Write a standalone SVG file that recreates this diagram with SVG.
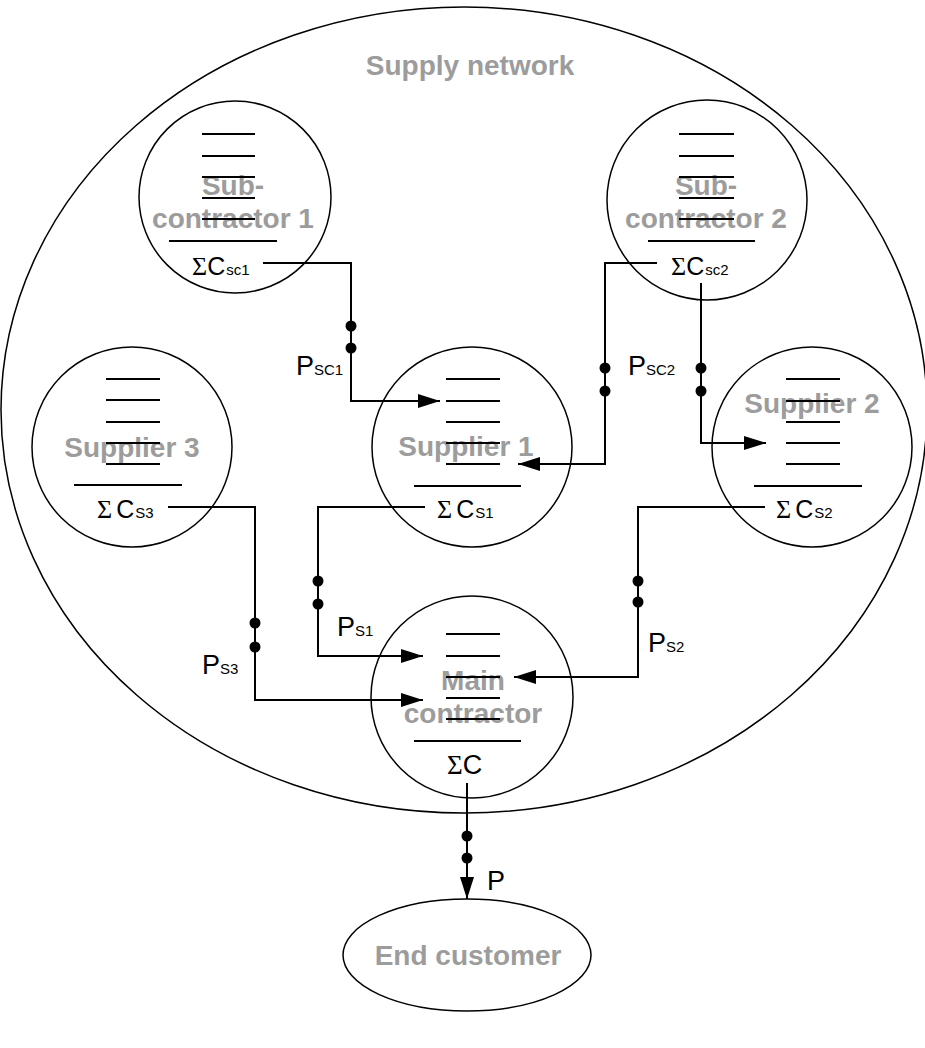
<svg xmlns="http://www.w3.org/2000/svg" width="925" height="1048" viewBox="0 0 925 1048">
  <style>
    .outline { fill: none; stroke: #000; stroke-width: 1.5; }
    .bar { stroke: #000; stroke-width: 2; }
    .wire { fill: none; stroke: #000; stroke-width: 2; }
    .label { font-family: "Liberation Sans", Arial, sans-serif; font-weight: bold; font-size: 28px; fill: #9c9c9c; text-anchor: middle; }
    .sym { font-family: "Liberation Serif", "Times New Roman", serif; font-size: 26px; fill: #000; }
    .cost { font-family: "Liberation Sans", Arial, sans-serif; font-size: 25px; fill: #000; }
    .sub { font-family: "Liberation Sans", Arial, sans-serif; font-size: 15px; fill: #000; }
    .price { font-family: "Liberation Sans", Arial, sans-serif; font-size: 27px; fill: #000; }
  </style>
  <defs>
    <marker id="arrow" markerUnits="userSpaceOnUse" markerWidth="22" markerHeight="14" refX="22" refY="7" orient="auto">
      <polygon points="0,0 22,7 0,14" fill="#000"/>
    </marker>
  </defs>

  <rect width="925" height="1048" fill="#fff"/>

  <!-- Supply network boundary -->
  <g id="supply-network">
    <ellipse class="outline" cx="464" cy="410" rx="463" ry="403"/>
    <text class="label" x="470" y="75">Supply network</text>
  </g>

  <!-- Sub-contractor 1 -->
  <g id="subcontractor-1">
    <circle class="outline" cx="235" cy="197" r="96"/>
    <text class="label" x="233" y="195">Sub-</text>
    <text class="label" x="233" y="228">contractor 1</text>
    <line class="bar" x1="202" y1="134" x2="255" y2="134"/>
    <line class="bar" x1="202" y1="156" x2="255" y2="156"/>
    <line class="bar" x1="202" y1="177" x2="255" y2="177"/>
    <line class="bar" x1="202" y1="198" x2="255" y2="198"/>
    <line class="bar" x1="202" y1="219" x2="255" y2="219"/>
    <line class="bar" x1="169" y1="241" x2="277" y2="241"/>
    <text x="192" y="275"><tspan class="sym">Σ</tspan><tspan class="cost">C</tspan><tspan class="sub" dx="1">sc1</tspan></text>
  </g>

  <!-- Sub-contractor 2 -->
  <g id="subcontractor-2">
    <circle class="outline" cx="707" cy="200" r="100"/>
    <text class="label" x="706" y="195">Sub-</text>
    <text class="label" x="706" y="228">contractor 2</text>
    <line class="bar" x1="679" y1="134" x2="734" y2="134"/>
    <line class="bar" x1="679" y1="156" x2="734" y2="156"/>
    <line class="bar" x1="679" y1="177" x2="734" y2="177"/>
    <line class="bar" x1="679" y1="198" x2="734" y2="198"/>
    <line class="bar" x1="679" y1="219" x2="734" y2="219"/>
    <line class="bar" x1="648" y1="241" x2="755" y2="241"/>
    <text x="671" y="275"><tspan class="sym">Σ</tspan><tspan class="cost">C</tspan><tspan class="sub" dx="1">sc2</tspan></text>
  </g>

  <!-- Supplier 3 -->
  <g id="supplier-3">
    <circle class="outline" cx="132" cy="447" r="100"/>
    <text class="label" x="132" y="457">Supplier 3</text>
    <line class="bar" x1="106" y1="379" x2="160" y2="379"/>
    <line class="bar" x1="106" y1="400" x2="160" y2="400"/>
    <line class="bar" x1="106" y1="422" x2="160" y2="422"/>
    <line class="bar" x1="106" y1="443" x2="160" y2="443"/>
    <line class="bar" x1="106" y1="464" x2="160" y2="464"/>
    <line class="bar" x1="74" y1="485" x2="182" y2="485"/>
    <text x="97" y="518"><tspan class="sym">Σ</tspan><tspan class="cost" dx="4">C</tspan><tspan class="sub" dx="1">S3</tspan></text>
  </g>

  <!-- Supplier 1 -->
  <g id="supplier-1">
    <circle class="outline" cx="472" cy="447" r="100"/>
    <text class="label" x="466" y="456">Supplier 1</text>
    <line class="bar" x1="446" y1="379" x2="500" y2="379"/>
    <line class="bar" x1="446" y1="401" x2="500" y2="401"/>
    <line class="bar" x1="446" y1="422" x2="500" y2="422"/>
    <line class="bar" x1="446" y1="443" x2="500" y2="443"/>
    <line class="bar" x1="446" y1="464" x2="500" y2="464"/>
    <line class="bar" x1="414" y1="486" x2="521" y2="486"/>
    <text x="437" y="518"><tspan class="sym">Σ</tspan><tspan class="cost" dx="4">C</tspan><tspan class="sub" dx="1">S1</tspan></text>
  </g>

  <!-- Supplier 2 -->
  <g id="supplier-2">
    <circle class="outline" cx="812" cy="447" r="100"/>
    <text class="label" x="812" y="413">Supplier 2</text>
    <line class="bar" x1="786" y1="379" x2="840" y2="379"/>
    <line class="bar" x1="786" y1="401" x2="840" y2="401"/>
    <line class="bar" x1="786" y1="422" x2="840" y2="422"/>
    <line class="bar" x1="786" y1="443" x2="840" y2="443"/>
    <line class="bar" x1="786" y1="464" x2="840" y2="464"/>
    <line class="bar" x1="754" y1="486" x2="862" y2="486"/>
    <text x="776" y="518"><tspan class="sym">Σ</tspan><tspan class="cost" dx="4">C</tspan><tspan class="sub" dx="1">S2</tspan></text>
  </g>

  <!-- Main contractor -->
  <g id="main-contractor">
    <circle class="outline" cx="472" cy="697" r="101"/>
    <text class="label" x="473" y="690">Main</text>
    <text class="label" x="473" y="723">contractor</text>
    <line class="bar" x1="446" y1="634" x2="500" y2="634"/>
    <line class="bar" x1="446" y1="656" x2="500" y2="656"/>
    <line class="bar" x1="446" y1="677" x2="500" y2="677"/>
    <line class="bar" x1="446" y1="698" x2="500" y2="698"/>
    <line class="bar" x1="446" y1="719" x2="500" y2="719"/>
    <line class="bar" x1="414" y1="741" x2="521" y2="741"/>
    <text x="447" y="774"><tspan class="sym" style="font-size:27px">Σ</tspan><tspan class="cost" style="font-size:27px">C</tspan></text>
  </g>

  <!-- End customer -->
  <g id="end-customer">
    <ellipse class="outline" cx="467" cy="955" rx="124" ry="56"/>
    <text class="label" x="468" y="965">End customer</text>
  </g>

  <!-- Price / cost flows -->
  <g id="connectors">
    <polyline class="wire" points="263,263 351,263 351,401 440,401" marker-end="url(#arrow)"/>
    <polyline class="wire" points="657,263 605,263 605,464 518,464" marker-end="url(#arrow)"/>
    <polyline class="wire" points="701,283 701,443 766,443" marker-end="url(#arrow)"/>
    <polyline class="wire" points="168,507 255,507 255,700 423,700" marker-end="url(#arrow)"/>
    <polyline class="wire" points="425,507 318,507 318,656 423,656" marker-end="url(#arrow)"/>
    <polyline class="wire" points="765,507 638,507 638,677 514,677" marker-end="url(#arrow)"/>
    <polyline class="wire" points="467,783 467,899" marker-end="url(#arrow)"/>

    <g id="junctions" fill="#000">
      <circle cx="351" cy="326" r="5.5"/><circle cx="351" cy="348" r="5.5"/>
      <circle cx="605" cy="368" r="5.5"/><circle cx="605" cy="391" r="5.5"/>
      <circle cx="701" cy="368" r="5.5"/><circle cx="701" cy="391" r="5.5"/>
      <circle cx="255" cy="623" r="5.5"/><circle cx="255" cy="647" r="5.5"/>
      <circle cx="318" cy="581" r="5.5"/><circle cx="318" cy="604" r="5.5"/>
      <circle cx="638" cy="581" r="5.5"/><circle cx="638" cy="602" r="5.5"/>
      <circle cx="467" cy="836" r="5.5"/><circle cx="467" cy="858" r="5.5"/>
    </g>

    <text x="296" y="375"><tspan class="price">P</tspan><tspan class="sub">SC1</tspan></text>
    <text x="628" y="375"><tspan class="price">P</tspan><tspan class="sub">SC2</tspan></text>
    <text x="202" y="674"><tspan class="price">P</tspan><tspan class="sub">S3</tspan></text>
    <text x="337" y="636"><tspan class="price">P</tspan><tspan class="sub">S1</tspan></text>
    <text x="648" y="652"><tspan class="price">P</tspan><tspan class="sub">S2</tspan></text>
    <text x="487" y="890" class="price">P</text>
  </g>
</svg>
